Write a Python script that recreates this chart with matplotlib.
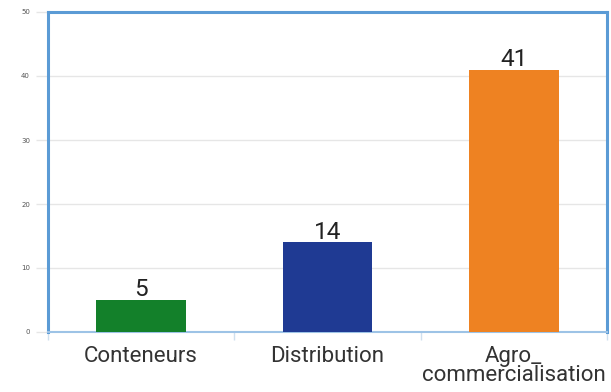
import matplotlib
matplotlib.use("Agg")
import matplotlib.pyplot as plt

categories = ["Conteneurs", "Distribution", "Agro_\ncommercialisation"]
values = [5, 14, 41]
colors = ["#13802a", "#1f3a93", "#ee8222"]
yticks = [0, 10, 20, 30, 40, 50]

fig = plt.figure(figsize=(6.11, 3.92), dpi=100)
ax = fig.add_axes([48/611, 1-332/392, (607-48)/611, (332-12)/392])

x = list(range(len(categories)))
bars = ax.bar(x, values, width=0.48, color=colors, zorder=3)
for xi, v in zip(x, values):
    ax.text(xi, v - 0.2, str(v), ha="center", va="bottom", fontsize=17.5,
            color="#222222", family="Roboto")

ax.set_xlim(-0.5, 2.5)
ax.set_ylim(0, 50)
ax.set_yticks(yticks)
ax.set_yticklabels([str(t) for t in yticks], fontsize=5, color="#555555")
ax.yaxis.grid(True, color="#e6e6e6", linewidth=1, zorder=0)
ax.tick_params(axis="y", length=9, width=1, color="#e6e6e6", pad=4)
ax.set_xticks(x)
ax.set_xticklabels(categories, fontsize=16, color="#333333", family="Roboto",
                   linespacing=0.9)
ax.tick_params(axis="x", which="major", length=0, pad=10)
ax.set_xticks([-0.5, 0.5, 1.5, 2.5], minor=True)
ax.tick_params(axis="x", which="minor", length=6, width=1, color="#cfe0ef")

for s in ["left", "top", "right"]:
    ax.spines[s].set_color("#5b9bd5")
    ax.spines[s].set_linewidth(2.2)
ax.spines["bottom"].set_color("#9dc3e6")
ax.spines["bottom"].set_linewidth(1.5)

fig.savefig("out.png", dpi=100)
